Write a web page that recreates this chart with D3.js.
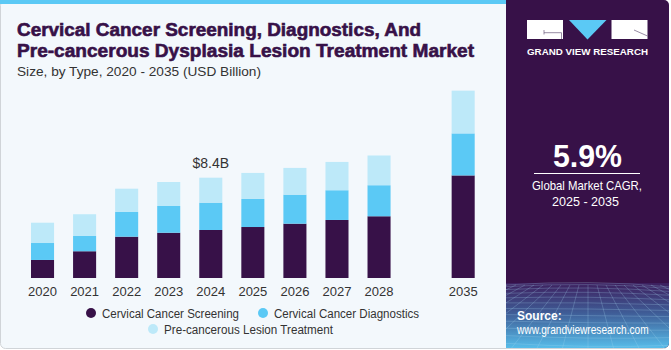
<!DOCTYPE html>
<html>
<head>
<meta charset="utf-8">
<script src="https://cdn.jsdelivr.net/npm/d3@7"></script>
<style>
  body { margin: 0; background: #fff; }
  svg { display: block; font-family: 'Liberation Sans', Arial, sans-serif; }
</style>
</head>
<body>
<svg id="chart" width="671" height="350"></svg>
<script>
// values (USD Billion)
const years = ['2020', '2021', '2022', '2023', '2024', '2025', '2026', '2027', '2028', '2035']
const screening = [1.51, 2.24, 3.46, 3.79, 4.02, 4.27, 4.55, 4.86, 5.17, 8.59]
const diagnostics = [1.42, 1.28, 2.07, 2.24, 2.29, 2.35, 2.43, 2.49, 2.60, 3.52]
const treatment = [1.70, 1.82, 1.95, 2.01, 2.09, 2.18, 2.24, 2.37, 2.49, 3.58]
const seriesNames = ['Cervical Cancer Screening', 'Cervical Cancer Diagnostics', 'Pre-cancerous Lesion Treatment']
const colors = ['#371148', '#5bc9f5', '#bde9f9']
const highlight = { year: '2024', label: '$8.4B' }

const svg = d3.select('#chart')
const purple = '#371148'

// card background
svg.append('rect')
  .attr('x', 0.5).attr('y', 0.5).attr('width', 668).attr('height', 348)
  .attr('rx', 5)
  .attr('fill', '#f3f8fc')
  .attr('stroke', '#d0d4d8')
svg.append('rect')
  .attr('x', 0).attr('y', 0).attr('width', 506).attr('height', 4)
  .attr('fill', '#5bc9f5')

// titles (stroke thickens the bold face a bit, like the heavy original)
const title = svg.append('g')
  .attr('fill', purple)
  .attr('stroke', purple).attr('stroke-width', 0.6)
  .style('font-weight', 'bold').style('font-size', '18px')
title.append('text').attr('x', 17).attr('y', 36)
  .attr('textLength', 404).attr('lengthAdjust', 'spacingAndGlyphs')
  .text('Cervical Cancer Screening, Diagnostics, And')
title.append('text').attr('x', 17).attr('y', 57)
  .attr('textLength', 457).attr('lengthAdjust', 'spacingAndGlyphs')
  .text('Pre-cancerous Dysplasia Lesion Treatment Market')
svg.append('text')
  .attr('x', 17).attr('y', 76)
  .attr('fill', '#333')
  .attr('textLength', 244).attr('lengthAdjust', 'spacingAndGlyphs')
  .style('font-size', '13px')
  .text('Size, by Type, 2020 - 2035 (USD Billion)')

// data table for stacking
const table = years.map((y, i) => ({ year: y, s0: screening[i], s1: diagnostics[i], s2: treatment[i] }))
const stack = d3.stack().keys(['s0', 's1', 's2'])(table)

const slots = years.slice(0, 9).concat(['gap'], years.slice(9))
const x = d3.scaleBand()
  .domain(slots)
  .range([21.5, 484.2])
  .paddingInner(0.452)
  .paddingOuter(0.226)

const baseY = 278
const y = d3.scaleLinear()
  .domain([0, 8.4])
  .range([baseY, 177.7])

const g = svg.append('g')
g.selectAll('g.layer')
  .data(stack)
  .enter()
  .append('g')
  .attr('class', 'layer')
  .attr('fill', (d, i) => colors[i])
  .selectAll('rect')
  .data(d => d)
  .enter()
  .append('rect')
  .attr('x', d => x(d.data.year))
  .attr('y', d => y(d[1]))
  .attr('width', x.bandwidth())
  .attr('height', d => y(d[0]) - y(d[1]))

// year axis
const xAxis = d3.axisBottom(x).tickSize(0).tickPadding(9)
const axisG = svg.append('g')
  .attr('transform', `translate(0, ${baseY})`)
  .call(xAxis)
axisG.select('.domain').remove()
axisG.selectAll('.tick').filter(d => d === 'gap').remove()
axisG.selectAll('text')
  .attr('fill', '#333')
  .style('font-size', '13px')
  .style('font-family', "'Liberation Sans', Arial, sans-serif")

// value label
const hi = table.find(d => d.year === highlight.year)
svg.append('text')
  .attr('x', x(highlight.year) + x.bandwidth() / 2)
  .attr('y', y(hi.s0 + hi.s1 + hi.s2) - 10)
  .attr('text-anchor', 'middle')
  .attr('fill', '#333')
  .style('font-size', '14px')
  .text(highlight.label)

// legend
const legendPos = [[91, 313], [263, 313], [153, 329]]
const legendLen = [137, 145, 169]
const legend = svg.append('g')
seriesNames.forEach((name, i) => {
  const lg = legend.append('g').attr('transform', `translate(${legendPos[i][0]}, ${legendPos[i][1]})`)
  lg.append('circle').attr('r', 5).attr('fill', colors[i])
  lg.append('text')
    .attr('x', 11).attr('y', 4.5)
    .attr('fill', '#333')
    .attr('textLength', legendLen[i]).attr('lengthAdjust', 'spacingAndGlyphs')
    .style('font-size', '12.5px')
    .text(name)
})

// right panel
const defs = svg.append('defs')
const grad = defs.append('linearGradient').attr('id', 'gridGrad').attr('x1', 0).attr('y1', 0).attr('x2', 0).attr('y2', 1)
grad.append('stop').attr('offset', '0%').attr('stop-color', '#3d1f5e')
grad.append('stop').attr('offset', '45%').attr('stop-color', '#3f5d97')
grad.append('stop').attr('offset', '100%').attr('stop-color', '#58c2ee')
defs.append('clipPath').attr('id', 'panelClip')
  .append('path')
  .attr('d', 'M506,0 H664 A5,5 0 0 1 669,5 V343 A5,5 0 0 1 664,348 H506 Z')

const panel = svg.append('g').attr('clip-path', 'url(#panelClip)')
panel.append('rect').attr('x', 506).attr('y', 0).attr('width', 165).attr('height', 350).attr('fill', purple)
panel.append('rect').attr('x', 506).attr('y', 283).attr('width', 165).attr('height', 67).attr('fill', 'url(#gridGrad)')

// perspective grid in the lower panel
const grid = panel.append('g').attr('stroke', '#a9d8f2').attr('stroke-opacity', 0.35).attr('stroke-width', 0.7).attr('fill', 'none')
d3.range(0, 12).forEach(i => {
  const yy = 285 + Math.pow(i, 1.5) * 1.6
  grid.append('path').attr('d', `M506,${yy} Q590,${yy - 6 + i} 671,${yy + 2}`)
})
d3.range(-10, 11).forEach(i => {
  grid.append('line')
    .attr('x1', 588 + i * 9).attr('y1', 285)
    .attr('x2', 588 + i * 26).attr('y2', 350)
})

// logo
const logo = svg.append('g')
logo.append('rect').attr('x', 527).attr('y', 20).attr('width', 36).attr('height', 19).attr('fill', '#ffffff')
logo.append('path').attr('d', 'M544,30 V34.5 M544,32.7 H561.5 V39').attr('stroke', '#6b5a7c').attr('stroke-width', 0.7).attr('fill', 'none')
logo.append('path').attr('d', 'M569,20 H606.5 L587.5,39.5 Z').attr('fill', '#5bc9f5')
logo.append('rect').attr('x', 611.5).attr('y', 20).attr('width', 36).attr('height', 19).attr('fill', '#ffffff')
logo.append('path').attr('d', 'M634,30 L647.5,36').attr('stroke', '#6b5a7c').attr('stroke-width', 0.7)
logo.append('text')
  .attr('x', 527).attr('y', 55)
  .attr('fill', '#fff')
  .attr('textLength', 121).attr('lengthAdjust', 'spacingAndGlyphs')
  .style('font-size', '9.5px').style('font-weight', 'bold')
  .text('GRAND VIEW RESEARCH')

panel.append('text')
  .attr('x', 553).attr('y', 167)
  .attr('fill', '#fff')
  .attr('textLength', 69).attr('lengthAdjust', 'spacingAndGlyphs')
  .style('font-size', '32px').style('font-weight', 'bold')
  .text('5.9%')
panel.append('line')
  .attr('x1', 534).attr('x2', 640).attr('y1', 173.5).attr('y2', 173.5)
  .attr('stroke', '#fff').attr('stroke-width', 1)
panel.append('text')
  .attr('x', 532).attr('y', 190)
  .attr('fill', '#fff')
  .attr('textLength', 110).attr('lengthAdjust', 'spacingAndGlyphs')
  .style('font-size', '13px')
  .text('Global Market CAGR,')
panel.append('text')
  .attr('x', 552).attr('y', 206)
  .attr('fill', '#fff')
  .attr('textLength', 67).attr('lengthAdjust', 'spacingAndGlyphs')
  .style('font-size', '13px')
  .text('2025 - 2035')

panel.append('text')
  .attr('x', 517).attr('y', 320)
  .attr('fill', '#fff')
  .style('font-size', '12px').style('font-weight', 'bold')
  .text('Source:')
panel.append('text')
  .attr('transform', 'translate(517, 334) scale(0.845, 1)')
  .attr('fill', '#fff')
  .style('font-size', '12px')
  .text('www.grandviewresearch.com')
</script>
</body>
</html>
